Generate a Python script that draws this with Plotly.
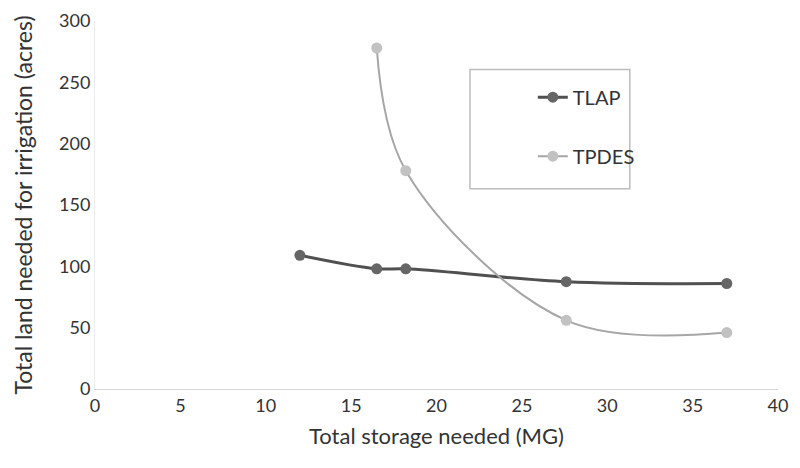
import plotly.graph_objects as go

storage_tlap = [12.0, 16.5, 18.2, 27.6, 37.0]
land_tlap = [109, 98, 98, 87.5, 86]
storage_tpdes = [16.5, 18.2, 27.6, 37.0]
land_tpdes = [278, 178, 56, 46]

x_ticks = [0, 5, 10, 15, 20, 25, 30, 35, 40]
y_ticks = [0, 50, 100, 150, 200, 250, 300]

FONT = "Lato, sans-serif"

fig = go.Figure()
fig.add_trace(go.Scatter(
    x=storage_tlap, y=land_tlap, name="TLAP", mode="lines+markers",
    line=dict(color="#505050", width=3, shape="spline", smoothing=1),
    marker=dict(color="#666666", size=11, symbol="circle"),
    legendgroup="a",
))
fig.add_trace(go.Scatter(
    x=storage_tpdes, y=land_tpdes, name="TPDES", mode="lines+markers",
    line=dict(color="#a6a6a6", width=2, shape="spline", smoothing=1),
    marker=dict(color="#c2c2c2", size=11, symbol="circle"),
    legendgroup="b",
))

fig.update_layout(
    width=800, height=468,
    margin=dict(l=87, r=30, t=13, b=87),
    paper_bgcolor="white", plot_bgcolor="white",
    font=dict(family=FONT, size=18, color="#333333"),
    showlegend=True,
    legend=dict(
        x=0.641, y=0.846, xanchor="left", yanchor="top",
        bgcolor="rgba(0,0,0,0)", borderwidth=0,
        font=dict(size=20, color="#333333"),
        traceorder="grouped", tracegroupgap=30,
    ),
    xaxis=dict(
        range=[0, 40], tickvals=x_ticks, ticks="", showgrid=False,
        showline=True, linecolor="#d6d6d6", linewidth=1, zeroline=False,
        title=dict(text="Total storage needed (MG)", font=dict(size=22), standoff=14),
        tickfont=dict(size=18), ticklabeloverflow="allow", automargin=False,
    ),
    yaxis=dict(
        range=[0, 300], tickvals=y_ticks, ticks="", showgrid=False,
        showline=True, linecolor="#ececec", linewidth=1, zeroline=False,
        title=dict(text="Total land needed for irrigation (acres)", font=dict(size=23), standoff=20),
        tickfont=dict(size=18), ticklabeloverflow="allow", automargin=False,
    ),
    shapes=[dict(
        type="rect", xref="paper", yref="paper",
        x0=0.549, x1=0.783, y0=0.544, y1=0.868,
        line=dict(color="#bdbdbd", width=1.5), fillcolor="rgba(0,0,0,0)",
    )],
)

fig.write_html("out.html")
